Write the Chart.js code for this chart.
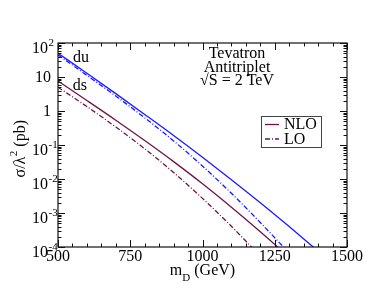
<!DOCTYPE html>
<html>
<head>
<meta charset="utf-8">
<script src="https://cdn.jsdelivr.net/npm/chart.js@4.4.1/dist/chart.umd.min.js"></script>
<style>
  html, body { margin: 0; padding: 0; background: #fff; }
  #wrap { width: 376px; height: 291px; }
</style>
</head>
<body>
<div id="wrap"><canvas id="chart" width="376" height="291"></canvas></div>
<script>
// m_D (GeV) where the curves were read
const masses = [500, 600, 700, 800, 900, 1000, 1100, 1200, 1300, 1400];

// sigma / lambda^2 (pb)
const duNLO = [50.1, 12.9, 3.24, 0.794, 0.191, 0.0437, 0.00955, 0.00200, 0.000398, 0.0000759];
const duLO  = [44.7, 11.2, 2.75, 0.631, 0.132, 0.0240, 0.00380, 0.000525, 0.0000661, null];
const dsNLO = [7.59, 2.04, 0.537, 0.135, 0.0324, 0.00724, 0.00148, 0.000282, 0.0000501, null];
const dsLO  = [5.01, 1.35, 0.339, 0.0776, 0.0155, 0.00269, 0.000407, 0.0000537, null, null];

const xTicks = [500, 750, 1000, 1250, 1500];
const yTickValues = [100, 10, 1, 0.1, 0.01, 0.001, 0.0001];
const yTickBase = ['10', '10', '1', '10', '10', '10', '10'];
const yTickExp = ['2', '', '', '-1', '-2', '-3', '-4'];

const BLUE = '#1a1aff';
const MAROON = '#6e1449';
const SERIF = '"Liberation Serif", "DejaVu Serif", serif';

function pts(vals) {
    return masses.map((m, i) => ({ x: m, y: vals[i] })).filter(p => p.y !== null);
}

function series(label, vals, color, dashed) {
    return {
        label: label,
        data: pts(vals),
        borderColor: color,
        borderWidth: 1.3,
        borderDash: dashed ? [5, 2, 1, 2] : [],
        pointRadius: 0,
        cubicInterpolationMode: 'monotone',
        fill: false,
        clip: 0
    };
}

const decor = {
    id: 'decor',
    afterDraw(chart) {
        const ctx = chart.ctx;
        const a = chart.chartArea;
        const xs = chart.scales.x;
        const ys = chart.scales.y;
        ctx.save();

        // frame
        ctx.strokeStyle = '#111';
        ctx.lineWidth = 1.2;
        ctx.strokeRect(a.left, a.top, a.right - a.left, a.bottom - a.top);

        // x ticks, inward on bottom and top
        ctx.lineWidth = 1;
        ctx.beginPath();
        for (let m = 500; m <= 1500; m += 50) {
            const px = Math.round(xs.getPixelForValue(m)) + 0.5;
            const len = (m % 250 === 0) ? 7 : 3.5;
            ctx.moveTo(px, a.bottom); ctx.lineTo(px, a.bottom - len);
            ctx.moveTo(px, a.top); ctx.lineTo(px, a.top + len);
        }
        // y ticks, inward on left and right
        yTickValues.forEach(v => {
            for (let k = 1; k <= 9; k++) {
                const val = v * k;
                if (val > 100) break;
                const py = Math.round(ys.getPixelForValue(val)) + 0.5;
                const len = k === 1 ? 7 : 3.5;
                ctx.moveTo(a.left, py); ctx.lineTo(a.left + len, py);
                ctx.moveTo(a.right, py); ctx.lineTo(a.right - len, py);
            }
        });
        ctx.stroke();

        // y tick labels with raised exponents
        ctx.fillStyle = '#000';
        ctx.textBaseline = 'middle';
        yTickValues.forEach((v, i) => {
            const py = ys.getPixelForValue(v);
            if (yTickExp[i] === '') {
                ctx.font = '16px ' + SERIF;
                ctx.textAlign = 'right';
                ctx.fillText(yTickBase[i], 51, py + 1);
            } else {
                ctx.font = '16px ' + SERIF;
                ctx.textAlign = 'right';
                ctx.fillText(yTickBase[i], 48, py + 6);
                ctx.font = '11px ' + SERIF;
                ctx.textAlign = 'left';
                ctx.fillText(yTickExp[i], 48.5, py);
            }
        });

        // x title: m_D (GeV)
        ctx.font = '16px ' + SERIF;
        const wM = ctx.measureText('m').width;
        const wRest = ctx.measureText(' (GeV)').width;
        ctx.font = '11px ' + SERIF;
        const wD = ctx.measureText('D').width;
        let tx = (a.left + a.right) / 2 - (wM + wD + wRest) / 2;
        ctx.textAlign = 'left';
        ctx.font = '16px ' + SERIF;
        ctx.fillText('m', tx, 271);
        ctx.font = '11px ' + SERIF;
        ctx.fillText('D', tx + wM, 278);
        ctx.font = '16px ' + SERIF;
        ctx.fillText(' (GeV)', tx + wM + wD, 271);

        // y title: sigma/lambda^2 (pb)
        ctx.save();
        ctx.translate(21, 149);
        ctx.rotate(-Math.PI / 2);
        ctx.font = '16px ' + SERIF;
        const w1 = ctx.measureText('σ/λ').width;
        const w3 = ctx.measureText(' (pb)').width;
        ctx.font = '11px ' + SERIF;
        const w2 = ctx.measureText('2').width;
        let ty = -(w1 + w2 + w3) / 2;
        ctx.font = '16px ' + SERIF;
        ctx.fillText('σ/λ', ty, 0);
        ctx.font = '11px ' + SERIF;
        ctx.fillText('2', ty + w1 + 0.5, -7);
        ctx.font = '16px ' + SERIF;
        ctx.fillText(' (pb)', ty + w1 + w2 + 0.5, 0);
        ctx.restore();

        // curve labels
        ctx.font = '16px ' + SERIF;
        ctx.textAlign = 'center';
        ctx.fillText('du', xs.getPixelForValue(580), ys.getPixelForValue(36));
        ctx.fillText('ds', xs.getPixelForValue(576), ys.getPixelForValue(5.4));

        // text block
        ctx.fillText('Tevatron', 237, 54);
        ctx.fillText('Antitriplet', 237, 67.5);
        ctx.fillText('\u221AS = 2 TeV', 237, 81);

        // legend
        ctx.strokeStyle = '#444';
        ctx.lineWidth = 1;
        ctx.strokeRect(261.5, 116.5, 60, 31);
        ctx.strokeStyle = MAROON;
        ctx.lineWidth = 1.3;
        ctx.beginPath();
        ctx.moveTo(265, 124.5); ctx.lineTo(279, 124.5);
        ctx.stroke();
        ctx.setLineDash([5, 2, 1, 2]);
        ctx.beginPath();
        ctx.moveTo(265, 139); ctx.lineTo(279, 139);
        ctx.stroke();
        ctx.setLineDash([]);
        ctx.textAlign = 'left';
        ctx.fillStyle = '#000';
        ctx.fillText('NLO', 284, 125);
        ctx.fillText('LO', 284, 140);

        ctx.restore();
    }
};

new Chart(document.getElementById('chart'), {
    type: 'line',
    data: {
        datasets: [
            series('du NLO', duNLO, BLUE, false),
            series('du LO', duLO, BLUE, true),
            series('ds NLO', dsNLO, MAROON, false),
            series('ds LO', dsLO, MAROON, true)
        ]
    },
    options: {
        responsive: false,
        animation: false,
        devicePixelRatio: 1,
        layout: { padding: { left: 0, right: 29, top: 43, bottom: 0 } },
        plugins: {
            legend: { display: false },
            tooltip: { enabled: false }
        },
        scales: {
            x: {
                type: 'linear',
                min: 500,
                max: 1500,
                afterBuildTicks: s => { s.ticks = xTicks.map(v => ({ value: v })); },
                afterFit: s => { s.height = 44; },
                ticks: {
                    color: '#000',
                    padding: 0,
                    maxRotation: 0,
                    callback: v => String(v),
                    font: { family: SERIF, size: 16 }
                },
                grid: { display: false, drawTicks: false },
                border: { display: false }
            },
            y: {
                type: 'logarithmic',
                min: 0.0001,
                max: 100,
                afterFit: s => { s.width = 58; },
                ticks: { display: false },
                grid: { display: false, drawTicks: false },
                border: { display: false }
            }
        }
    },
    plugins: [decor]
});
</script>
</body>
</html>
